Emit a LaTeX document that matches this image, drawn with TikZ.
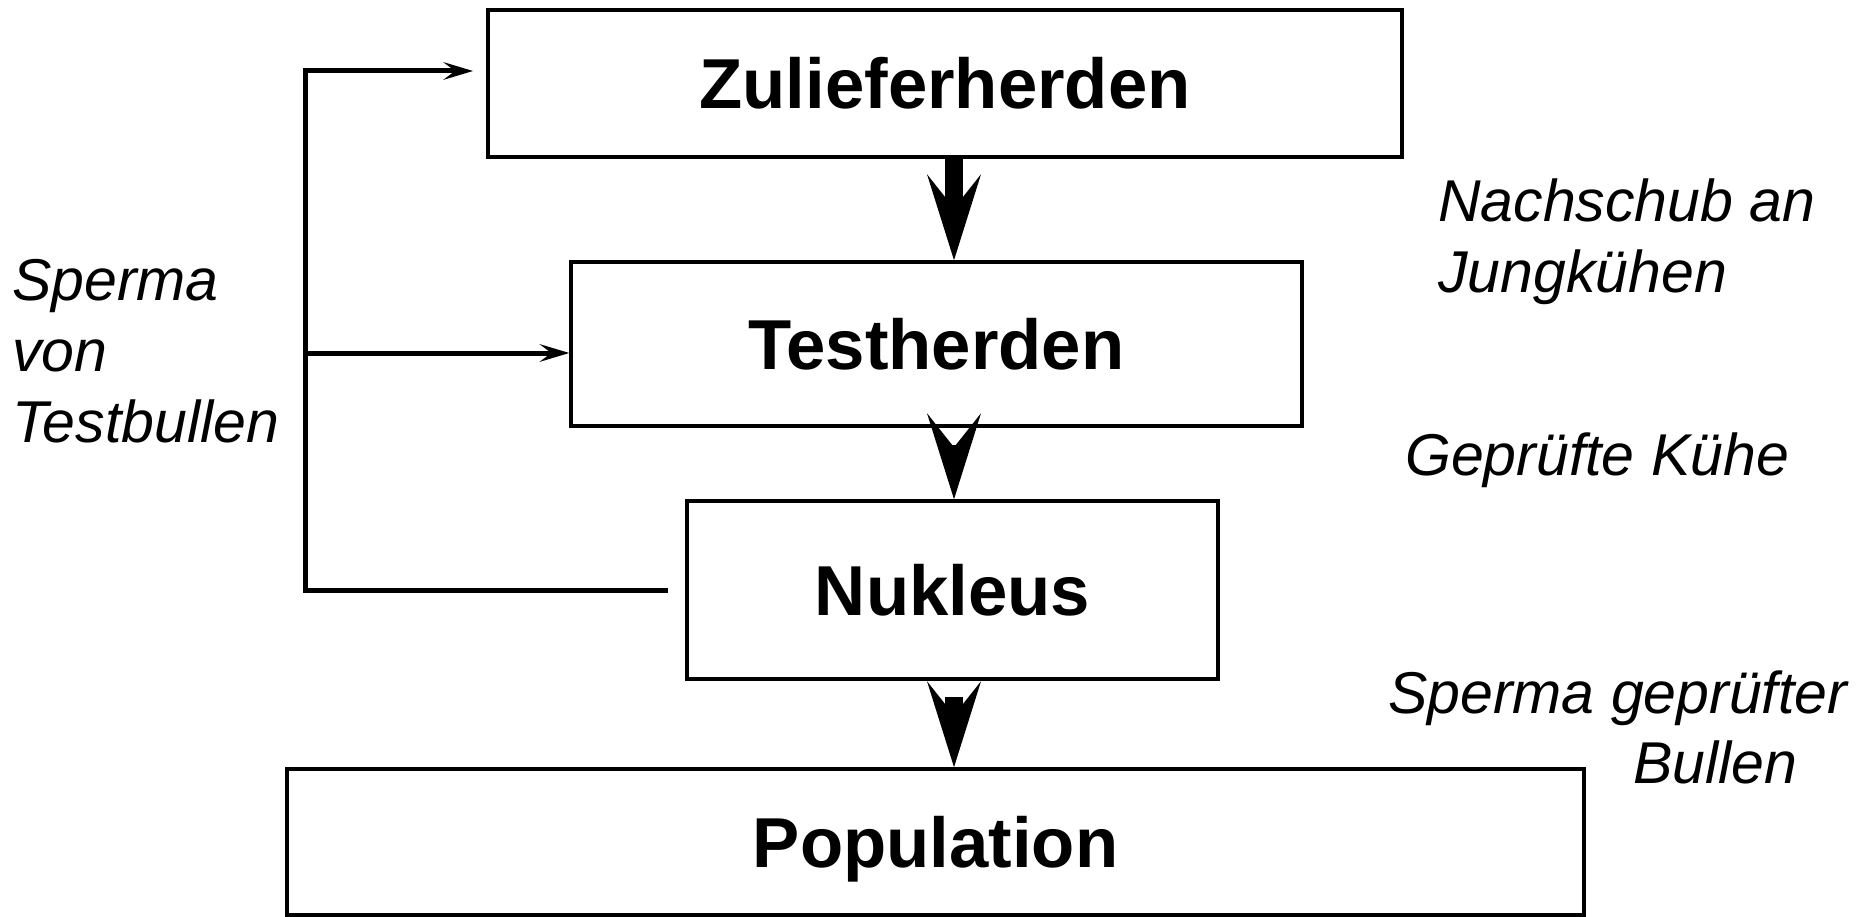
\documentclass[tikz,border=0pt]{standalone}
\usepackage{fontspec}
\setmainfont{Liberation Sans}
\usetikzlibrary{arrows.meta,calc}

\begin{document}
\begin{tikzpicture}[x=1pt,y=-1pt,
    box/.style={draw,line width=3.5pt,inner sep=0pt,text height=51pt,text depth=0pt,
      font=\fontsize{70.7}{85}\selectfont\bfseries},
    lbl/.style={inner sep=0pt,anchor=base west,align=left,
      font=\fontsize{59}{71}\selectfont\itshape},
    big/.style={-{Stealth[length=86pt,width=54pt,inset=34pt,line width=0pt]}},
    feed/.style={line width=5pt,-{Stealth[length=30pt,width=18pt,inset=12pt,line width=0pt]}}]
    \useasboundingbox (0,0) rectangle (1870,917);

    \node[box,minimum width=914pt,minimum height=147pt] (zul) at (945,83.5) {Zulieferherden};
    \node[box,minimum width=731pt,minimum height=164pt] (test) at (936.5,344) {Testherden};
    \node[box,minimum width=531pt,minimum height=178pt] (nuk) at (952.5,590) {Nukleus};
    \node[box,minimum width=1297pt,minimum height=146pt] (pop) at (935.5,842) {Population};

    \node[lbl] (sperma) at (12,442) {Sperma\\von\\Testbullen};
    \node[lbl] (nachschub) at (1438,292) {Nachschub an\\Jungkühen};
    \node[lbl] (kuehe) at (1405,475) {Geprüfte Kühe};
    \node[lbl] (gepr) at (1388,713) {Sperma geprüfter};
    \node[lbl] (bullen) at (1633,783) {Bullen};

    \coordinate (ax) at (954,0);
    \draw[big,line width=18pt] (zul.south -| ax) -- (test.north -| ax);
    \draw[big,line width=10pt] ($(test.south -| ax)+(0,17)$) -- (nuk.north -| ax);
    \draw[big,line width=18pt] ($(nuk.south -| ax)+(0,16)$) -- (pop.north -| ax);

    \coordinate (lx) at (305,0);
    \coordinate (top) at (473,71);
    \coordinate (mid) at (0,353);
    \draw[feed] ($(nuk.west)+(-17,0)$) -| (lx |- top) -- (top);
    \draw[feed] (lx |- mid) -- (test.west |- mid);
\end{tikzpicture}
\end{document}
